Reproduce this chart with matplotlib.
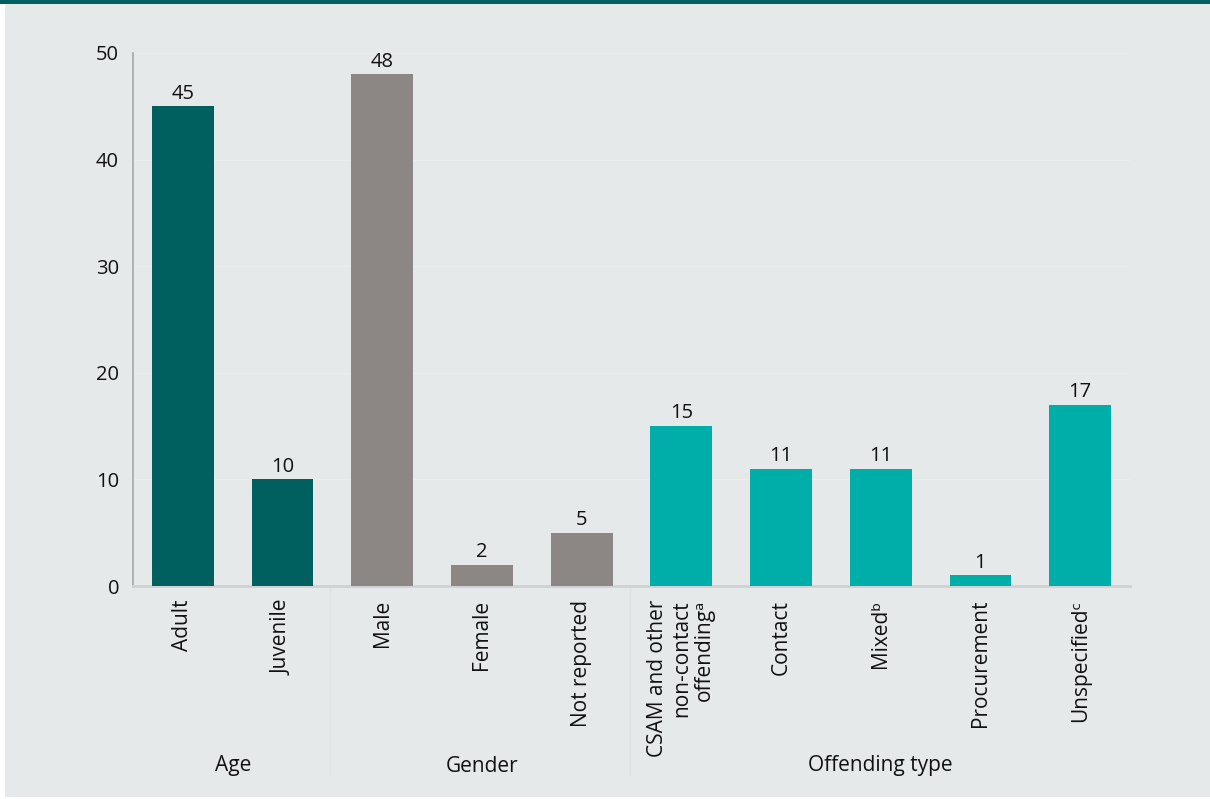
import matplotlib
matplotlib.use("Agg")
import matplotlib.pyplot as plt
from matplotlib.patches import Rectangle
import numpy as np

plt.rcParams['font.family'] = ['Open Sans', 'DejaVu Sans']

categories = ["Adult", "Juvenile", "Male", "Female", "Not reported",
              "CSAM and other\nnon-contact\noffendingᵃ", "Contact", "Mixedᵇ",
              "Procurement", "Unspecifiedᶜ"]
values = [45, 10, 48, 2, 5, 15, 11, 11, 1, 17]
groups = ["Age", "Gender", "Offending type"]
group_sizes = [2, 3, 5]
group_colors = ["#005F5F", "#8C8785", "#00AEA9"]
yticks = [0, 10, 20, 30, 40, 50]

BG = "#E6E9EA"
fig = plt.figure(figsize=(12.10, 7.99), dpi=100, facecolor="white")
# panel background
fig.add_artist(Rectangle((5/1210, 2/799), 1 - 5/1210, 1 - 2/799, transform=fig.transFigure,
                         facecolor=BG, edgecolor="none", zorder=-10))
# top teal rule
fig.add_artist(Rectangle((0, 1 - 4/799), 1, 4/799, transform=fig.transFigure,
                         facecolor="#005F5F", edgecolor="none", zorder=-5))

ax = fig.add_axes([133/1210, 1 - 586/799, (1130 - 133)/1210, (586 - 53)/799])
ax.set_facecolor("none")

colors = []
for c, n in zip(group_colors, group_sizes):
    colors += [c] * n
x = np.arange(len(categories))
bars = ax.bar(x, values, width=0.62, color=colors, zorder=3)
for xi, v in zip(x, values):
    ax.annotate(str(v), (xi, v), xytext=(0, 2), textcoords="offset points",
                ha="center", va="bottom", fontsize=14.5, color="#111111")

ax.set_xlim(-0.5, len(categories) - 0.5)
ax.set_ylim(0, 50)
ax.set_yticks(yticks)
ax.tick_params(axis="y", length=0, labelsize=14.5, pad=10, colors="#111111")
ax.yaxis.grid(True, color="#EAECED", linewidth=1, zorder=0)
ax.set_xticks(x)
ax.set_xticklabels(categories, rotation=90, ha="center", va="top",
                   multialignment="right", fontsize=15, color="#111111",
                   linespacing=1.15)
ax.tick_params(axis="x", length=0, pad=10)

for s in ["top", "right"]:
    ax.spines[s].set_visible(False)
ax.spines["left"].set_color("#A6A6A6")
ax.spines["left"].set_linewidth(1.2)
ax.spines["bottom"].set_color("#CFD1D2")
ax.spines["bottom"].set_linewidth(2)

# group separators and labels
trans = ax.get_xaxis_transform()
bottom_sep = -(775 - 586) / (586 - 53)
label_y = -(766 - 586) / (586 - 53)
start = 0
for i, (g, n) in enumerate(zip(groups, group_sizes)):
    end = start + n
    center = (start + end - 1) / 2
    ax.text(center, label_y, g, transform=trans, ha="center", va="center",
            fontsize=15, color="#111111")
    if i > 0:
        ax.plot([start - 0.52, start - 0.52], [0, bottom_sep], transform=trans,
                color="#E0E2E3", linewidth=1, clip_on=False)
    start = end

fig.savefig("out.png", dpi=100, facecolor=fig.get_facecolor())
